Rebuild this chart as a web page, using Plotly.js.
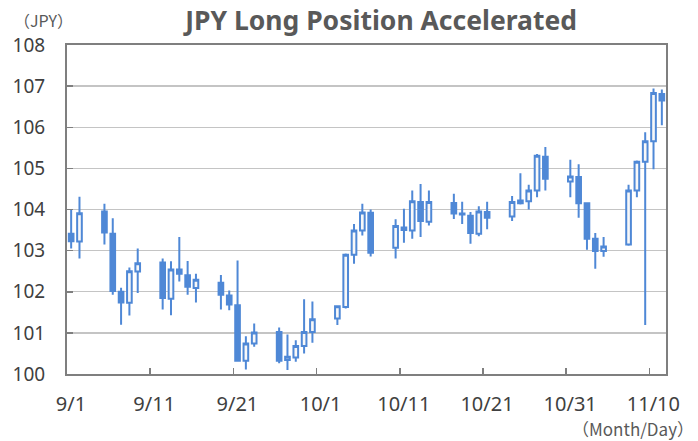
<!DOCTYPE html>
<html>
<head>
<meta charset="utf-8">
<script src="https://cdn.plot.ly/plotly-3.0.1.min.js"></script>
<style>html,body{margin:0;padding:0;background:#fff;}#chart{width:698px;height:441px;}</style>
</head>
<body>
<div id="chart"></div>
<script>
const dates = ['2016-09-01','2016-09-02','2016-09-05','2016-09-06','2016-09-07','2016-09-08','2016-09-09',
  '2016-09-12','2016-09-13','2016-09-14','2016-09-15','2016-09-16',
  '2016-09-19','2016-09-20','2016-09-21','2016-09-22','2016-09-23',
  '2016-09-26','2016-09-27','2016-09-28','2016-09-29','2016-09-30',
  '2016-10-03','2016-10-04','2016-10-05','2016-10-06','2016-10-07',
  '2016-10-10','2016-10-11','2016-10-12','2016-10-13','2016-10-14',
  '2016-10-17','2016-10-18','2016-10-19','2016-10-20','2016-10-21',
  '2016-10-24','2016-10-25','2016-10-26','2016-10-27','2016-10-28',
  '2016-10-31','2016-11-01','2016-11-02','2016-11-03','2016-11-04',
  '2016-11-07','2016-11-08','2016-11-09','2016-11-10','2016-11-11'];
const openV = [103.41,103.22,103.95,103.41,102.00,101.73,102.49,
  102.71,101.83,102.54,102.40,102.09,
  102.22,101.91,101.67,100.32,100.74,
  101.02,100.34,100.40,100.68,101.02,
  101.35,101.63,102.90,103.49,103.92,
  103.07,103.50,103.49,104.18,103.70,
  104.16,103.90,103.85,103.41,103.94,
  103.83,104.15,104.20,104.46,105.28,
  104.68,104.79,104.15,103.29,102.99,
  103.15,104.46,105.16,105.66,106.81];
const highV = [104.00,104.31,104.14,103.79,102.10,102.59,103.05,
  102.81,102.74,103.33,102.75,102.44,
  102.41,102.03,102.76,100.92,101.23,
  101.13,100.96,100.82,101.82,101.76,
  101.66,102.93,103.65,104.14,104.00,
  103.76,104.02,104.46,104.62,104.46,
  104.38,104.19,103.94,104.08,104.19,
  104.33,104.88,104.60,105.35,105.52,
  105.21,105.10,104.16,103.43,103.33,
  104.60,105.19,105.88,106.94,106.92];
const lowV = [103.05,102.81,103.15,101.93,101.20,101.42,101.97,
  101.57,101.43,102.25,101.93,101.74,
  101.57,101.55,100.30,100.11,100.66,
  100.26,100.10,100.30,100.50,100.76,
  101.19,101.59,102.68,103.37,102.86,
  102.81,103.19,103.29,103.33,103.61,
  103.77,103.65,103.17,103.35,103.52,
  103.72,104.12,104.00,104.30,104.46,
  104.30,103.80,103.02,102.56,102.85,
  103.12,104.30,101.19,104.98,106.05];
const closeV = [103.23,103.91,103.44,102.02,101.74,102.50,102.69,
  101.85,102.54,102.44,102.12,102.29,
  101.93,101.69,100.32,100.74,101.01,
  100.32,100.42,100.68,101.02,101.33,
  101.65,102.90,103.49,103.93,102.95,
  103.60,103.56,104.20,103.72,104.18,
  103.90,103.88,103.43,103.95,103.80,
  104.18,104.22,104.46,105.31,104.75,
  104.80,104.15,103.29,102.99,103.10,
  104.46,105.16,105.66,106.83,106.65];
const tickDates = ['2016-08-31 12:00','2016-09-10 12:00','2016-09-20 12:00','2016-09-30 12:00',
  '2016-10-10 12:00','2016-10-20 12:00','2016-10-30 12:00','2016-11-09 12:00'];
const tickLabels = ['9/1','9/11','9/21','10/1','10/11','10/21','10/31','11/10'];

const blue = '#4f88d6';
const trace = {
  type: 'candlestick',
  x: dates, open: openV, high: highV, low: lowV, close: closeV,
  increasing: {line: {color: blue, width: 2}, fillcolor: '#f8f8f8'},
  decreasing: {line: {color: blue, width: 2}, fillcolor: blue},
  whiskerwidth: 0,
  hoverinfo: 'none',
  showlegend: false
};
const font = 'Noto Sans, Open Sans, sans-serif';
const layout = {
  width: 698, height: 441,
  margin: {l: 67, r: 32, t: 45, b: 67},
  paper_bgcolor: '#fff', plot_bgcolor: '#fff',
  boxgap: 0.2,
  title: {text: '<b>JPY Long Position Accelerated</b>', font: {family: font, size: 26.5, color: '#595959'},
          x: 0.546, xanchor: 'center', y: 0.953, yanchor: 'middle'},
  xaxis: {
    type: 'date',
    range: ['2016-08-31 12:00', '2016-11-11 12:00'],
    rangeslider: {visible: false},
    tickmode: 'array', tickvals: tickDates, ticktext: tickLabels,
    ticks: 'inside', ticklen: 6, tickcolor: '#7f7f7f', tickwidth: 1.5,
    ticklabelshift: 4, ticklabelstandoff: 11,
    tickfont: {family: font, size: 20, color: '#404040'},
    showgrid: false,
    showline: true, linecolor: '#7f7f7f', linewidth: 2, mirror: true,
    zeroline: false, fixedrange: true
  },
  yaxis: {
    range: [100, 108],
    tickvals: [100,101,102,103,104,105,106,107,108],
    ticks: 'inside', ticklen: 6, tickcolor: '#7f7f7f', tickwidth: 1.5,
    ticklabelstandoff: 16,
    tickfont: {family: font, size: 19, color: '#404040'},
    showgrid: true, gridcolor: '#c4c4c4', gridwidth: 1.3,
    showline: true, linecolor: '#7f7f7f', linewidth: 2, mirror: true,
    zeroline: false, fixedrange: true
  },
  annotations: [
    {text: '（JPY）', xref: 'paper', yref: 'paper', x: -0.04, y: 1, yshift: 25,
     xanchor: 'center', yanchor: 'middle', showarrow: false,
     font: {family: 'Noto Sans CJK JP, Noto Sans, sans-serif', size: 16, color: '#595959'}},
    {text: '（Month/Day）', xref: 'paper', yref: 'paper', x: 1, y: 0, xshift: 30, yshift: -54,
     xanchor: 'right', yanchor: 'middle', showarrow: false,
     font: {family: 'Noto Sans CJK JP, Noto Sans, sans-serif', size: 17, color: '#595959'}}
  ]
};
Plotly.newPlot('chart', [trace], layout, {displayModeBar: false, staticPlot: true});
</script>
</body>
</html>
